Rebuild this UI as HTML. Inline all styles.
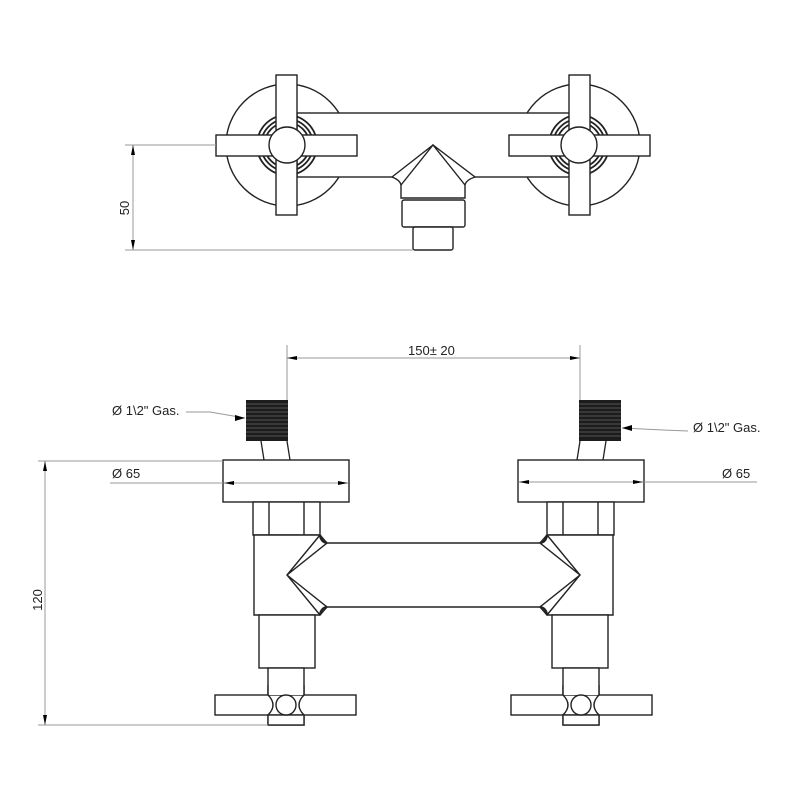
<!DOCTYPE html>
<html><head><meta charset="utf-8"><style>html,body{margin:0;padding:0;background:#fff}svg{display:block}text{font-family:"Liberation Sans",sans-serif;font-size:13px;fill:#222}</style></head>
<body>
<svg width="800" height="800" viewBox="0 0 800 800" xmlns="http://www.w3.org/2000/svg">
<defs>
<marker id="a" viewBox="0 0 10 4" refX="10" refY="2" markerWidth="10" markerHeight="4" orient="auto-start-reverse" markerUnits="userSpaceOnUse"><path d="M0,0L10,2L0,4z" fill="#000"/></marker>
<g id="half">
  <line x1="261" y1="441" x2="264" y2="460" stroke="#222" stroke-width="1.3"/>
  <line x1="287" y1="441" x2="290" y2="460" stroke="#222" stroke-width="1.3"/>
  <rect x="246" y="400" width="42" height="41" fill="#1c1c1c"/>
  <g stroke="#666" stroke-width="0.7">
    <line x1="246" y1="404" x2="288" y2="404"/><line x1="246" y1="408" x2="288" y2="408"/><line x1="246" y1="412" x2="288" y2="412"/><line x1="246" y1="416" x2="288" y2="416"/><line x1="246" y1="420" x2="288" y2="420"/><line x1="246" y1="424" x2="288" y2="424"/><line x1="246" y1="428" x2="288" y2="428"/><line x1="246" y1="432" x2="288" y2="432"/><line x1="246" y1="436" x2="288" y2="436"/>
  </g>
  <g fill="#fff" stroke="#222" stroke-width="1.4">
    <rect x="223" y="460" width="126" height="42"/>
    <rect x="253" y="502" width="67" height="33"/>
    <line x1="269" y1="502" x2="269" y2="535"/><line x1="304" y1="502" x2="304" y2="535"/>
    <path d="M320,535 L254,535 L254,615 L320,615"/>
    <rect x="259" y="615" width="56" height="53"/>
    <rect x="268" y="668" width="36" height="57"/>
    <rect x="215" y="695" width="141" height="20"/>
    <rect x="268" y="715" width="36" height="10"/>
    <rect x="268.7" y="685" width="34.6" height="10" stroke="none"/>
    <line x1="268" y1="685" x2="268" y2="695"/><line x1="304" y1="685" x2="304" y2="695"/>
    <path d="M268,695 Q278,705 268,715 M304,695 Q294,705 304,715" fill="none"/>
    <circle cx="286" cy="705" r="10"/>
    <path d="M320,535 L287,575 L320,615 L327,607 L287,575 L327,543 Z" fill="#fff"/>
    <path d="M320,535 Q321,542 327,543 M320,615 Q321,608 327,607" fill="none" stroke-width="2.4"/>
  </g>
</g>
</defs>

<!-- TOP VIEW -->
<g fill="#fff" stroke="#222" stroke-width="1.4">
  <circle cx="287" cy="145" r="61"/>
  <circle cx="579" cy="145" r="61"/>
  <rect x="297" y="113" width="273" height="64"/>
  <g fill="none" stroke-width="1.8">
    <circle cx="287" cy="145" r="30"/><circle cx="287" cy="145" r="26"/><circle cx="287" cy="145" r="22.5"/>
    <circle cx="579" cy="145" r="30"/><circle cx="579" cy="145" r="26"/><circle cx="579" cy="145" r="22.5"/>
  </g>
  <rect x="276" y="75" width="21" height="140"/>
  <rect x="216" y="135" width="141" height="21"/>
  <circle cx="287" cy="145" r="18"/>
  <rect x="569" y="75" width="21" height="140"/>
  <rect x="509" y="135" width="141" height="21"/>
  <circle cx="579" cy="145" r="18"/>
  <path d="M392,177 L433,145 L475,177 Q466,180 465,185 L465,198 L401,198 L401,185 Q400,180 392,177 Z"/>
  <path d="M401,185 L433,145 L465,185" fill="none"/>
  <rect x="402" y="200" width="63" height="27" rx="2"/>
  <rect x="413" y="227" width="40" height="23" rx="2"/>
</g>
<g stroke="#999" stroke-width="1">
  <line x1="125" y1="145" x2="216" y2="145"/>
  <line x1="125" y1="250" x2="413" y2="250"/>
</g>
<line x1="133" y1="145" x2="133" y2="250" stroke="#999" marker-start="url(#a)" marker-end="url(#a)"/>
<text transform="translate(129,208) rotate(-90)" text-anchor="middle">50</text>

<!-- FRONT VIEW -->
<g stroke="#222" stroke-width="1.4">
  <line x1="326" y1="543" x2="541" y2="543"/>
  <line x1="326" y1="607" x2="541" y2="607"/>
</g>
<use href="#half"/>
<use href="#half" transform="translate(867,0) scale(-1,1)"/>

<g stroke="#999" stroke-width="1" fill="none">
  <line x1="287" y1="345" x2="287" y2="400"/>
  <line x1="580" y1="345" x2="580" y2="400"/>
  <line x1="38" y1="461" x2="223" y2="461"/>
  <line x1="38" y1="725" x2="268" y2="725"/>
  <line x1="110" y1="483" x2="223" y2="483"/>
  <line x1="644" y1="482" x2="757" y2="482"/>
  <polyline points="186,412 210,412 245,418"/>
  <polyline points="622,428 663,430 688,431"/>
</g>
<line x1="287" y1="358" x2="580" y2="358" stroke="#999" marker-start="url(#a)" marker-end="url(#a)"/>
<line x1="45" y1="461" x2="45" y2="725" stroke="#999" marker-start="url(#a)" marker-end="url(#a)"/>
<line x1="224" y1="483" x2="348" y2="483" stroke="#999" marker-start="url(#a)" marker-end="url(#a)"/>
<line x1="519" y1="482" x2="643" y2="482" stroke="#999" marker-start="url(#a)" marker-end="url(#a)"/>
<path d="M235,415 L245,418 L235,421 Z" fill="#000"/>
<path d="M632,425 L622,428 L632,431 Z" fill="#000"/>
<text x="408" y="355">150± 20</text>
<text x="112" y="415">Ø 1\2" Gas.</text>
<text x="693" y="432">Ø 1\2" Gas.</text>
<text x="112" y="478">Ø 65</text>
<text x="722" y="478">Ø 65</text>
<text transform="translate(42,600) rotate(-90)" text-anchor="middle">120</text>
</svg>
</body></html>
